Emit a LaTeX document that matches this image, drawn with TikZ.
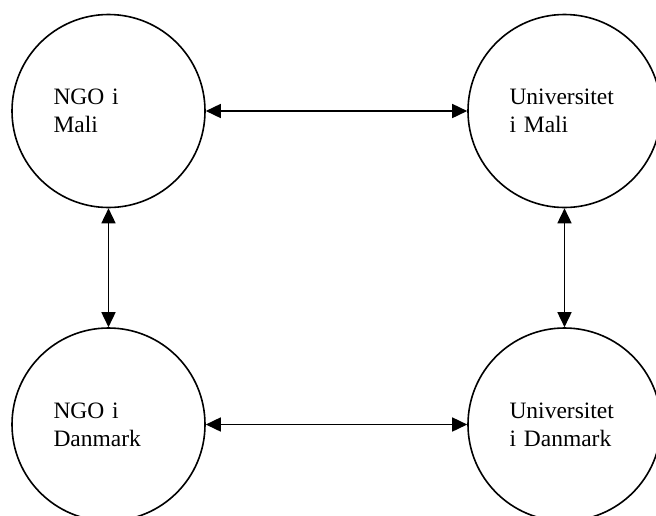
\documentclass[tikz,border=0pt]{standalone}
\usepackage{fontspec}
\setmainfont{Liberation Serif}
\usetikzlibrary{arrows.meta}
\tikzset{
  party/.style={draw, circle, line width=1.6pt, minimum size=193pt, inner sep=0pt,
    text width=110pt, align=left, font=\fontsize{23.5}{28}\selectfont},
  link/.style={line width=1.6pt, {Triangle[length=15pt,width=14pt]}-{Triangle[length=15pt,width=14pt]}}
}
\begin{document}
\begin{tikzpicture}[x=1pt,y=-1pt]
\useasboundingbox (0,0) rectangle (656,515);
\node[party] (ngomali) at (108.5,111) {NGO i\\Mali};
\node[party] (unimali) at (564.5,111) {Universitet\\i Mali};
\node[party] (ngodk) at (108.5,424.5) {NGO i\\Danmark};
\node[party] (unidk) at (564.5,424.5) {Universitet\\i Danmark};
\draw[link] (ngomali) -- (unimali);
\draw[link] (ngodk) -- (unidk);
\draw[link] (ngomali) -- (ngodk);
\draw[link] (unimali) -- (unidk);
\end{tikzpicture}
\end{document}
